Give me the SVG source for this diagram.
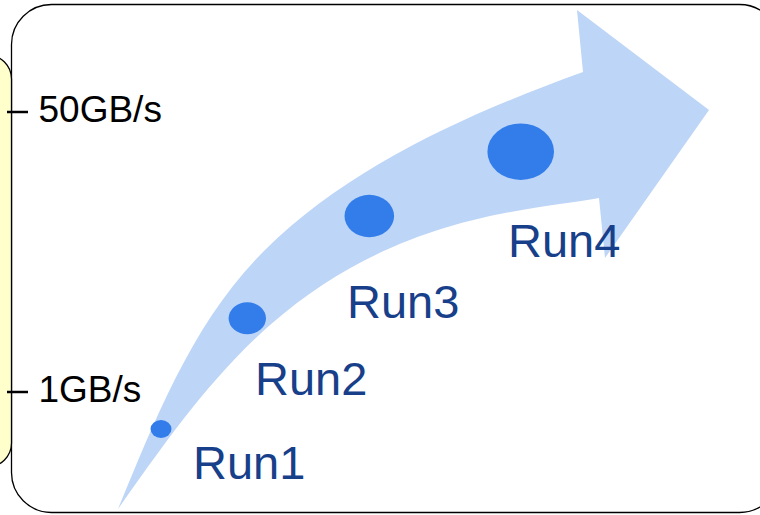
<svg xmlns="http://www.w3.org/2000/svg" width="760" height="515" viewBox="0 0 760 515">
  <style>
    .frame { fill: #ffffff; stroke: #000000; stroke-width: 1.3; }
    .side { fill: #ffffcc; stroke: #000000; stroke-width: 1.3; }
    .tick { stroke: #000000; stroke-width: 2.5; }
    .axis { font-family: "Liberation Sans", Arial, sans-serif; font-size: 37px; fill: #000000; }
    .run { font-family: "Liberation Sans", Arial, sans-serif; font-size: 47px; fill: #173f8a; }
    .arrow { fill: #bdd5f7; }
    .dot { fill: #337deb; }
  </style>

  <!-- outer panel -->
  <rect class="frame" x="11.5" y="4.5" width="768" height="508" rx="40" ry="40"/>

  <!-- side bar with the bandwidth scale -->
  <g id="scale">
    <rect class="side" x="-60" y="55" width="71.5" height="412" rx="24" ry="24"/>
    <line class="tick" x1="7" y1="112" x2="28" y2="112"/>
    <text class="axis" x="38.5" y="122">50GB/s</text>
    <line class="tick" x1="7" y1="392" x2="28" y2="392"/>
    <text class="axis" x="38.5" y="402">1GB/s</text>
  </g>

  <!-- curved growth arrow -->
  <g id="growth-arrow">
    <path class="arrow" d="M118,509 C156,417 194,320 265,250 C350,166 470,113 583,72 L577,10 L709,110 L605,258 L599,198 C539,210 400,211 270,325 C210,378 164,444 118,509 Z"/>
  </g>

  <!-- runs along the arrow -->
  <g id="run1">
    <ellipse class="dot" cx="161" cy="429" rx="10.5" ry="9"/>
    <text class="run" x="193" y="479">Run1</text>
  </g>
  <g id="run2">
    <ellipse class="dot" cx="247.3" cy="318.3" rx="18.7" ry="16"/>
    <text class="run" x="255" y="395">Run2</text>
  </g>
  <g id="run3">
    <ellipse class="dot" cx="369.3" cy="216" rx="24.8" ry="21.2"/>
    <text class="run" x="347" y="318">Run3</text>
  </g>
  <g id="run4">
    <ellipse class="dot" cx="520.7" cy="151.7" rx="33.3" ry="28.3"/>
    <text class="run" x="508" y="256.7">Run4</text>
  </g>
</svg>
